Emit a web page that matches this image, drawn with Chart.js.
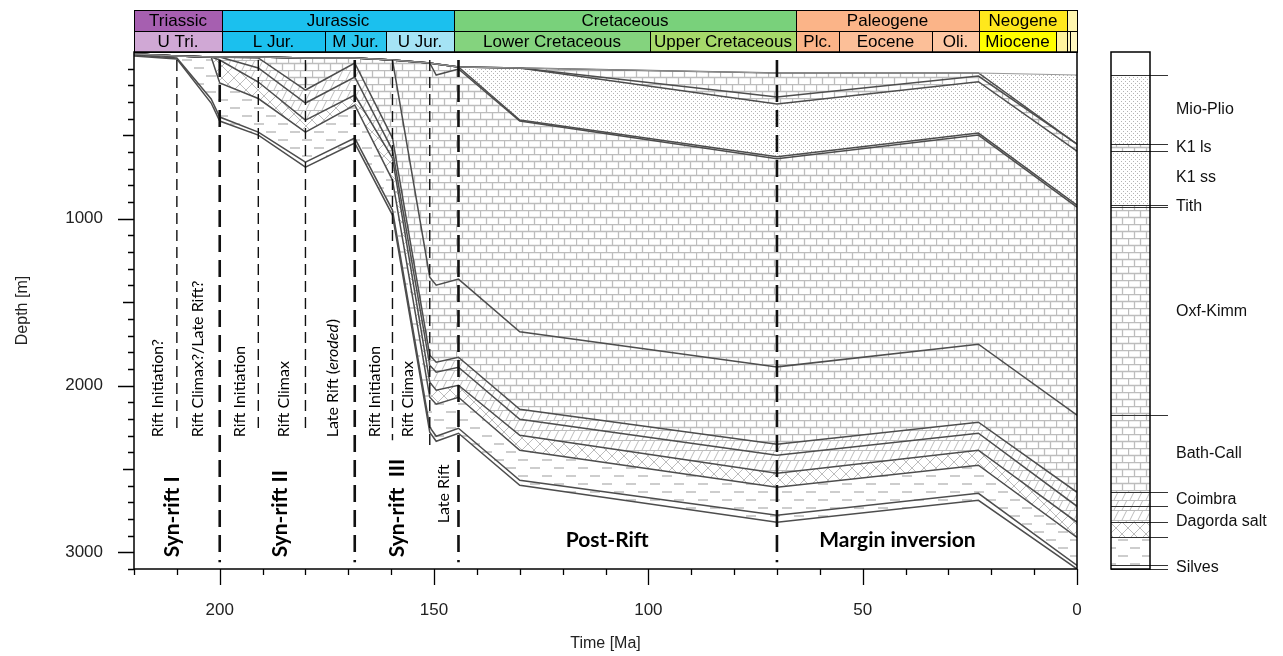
<!DOCTYPE html>
<html>
<head>
<meta charset="utf-8">
<title>Burial history</title>
<script src="https://cdn.jsdelivr.net/npm/chart.js@4.4.1/dist/chart.umd.min.js"></script>
<style>
  html, body { margin: 0; padding: 0; background: #fff; }
  #wrap { width: 1283px; height: 656px; }
</style>
</head>
<body>
<div id="wrap"><canvas id="burial" width="1283" height="656"></canvas></div>
<script>
// ages of the nodes (Ma) shared by every horizon
const ages = [220, 210, 202, 200, 191, 180, 168.5, 159.7, 151, 149.5, 144.3, 130, 70, 23, 0];

// horizon depths (m) at each age, top to bottom
const surface      = [12, 24, 30, 30, 30, 36, 36, 48, 66, 72, 90, 96, 126, 126, 138];
const mioPlioBase  = [12, 24, 30, 30, 30, 36, 36, 48, 66, 72, 90, 96, 126, 126, 552];
const k1lsTop      = [12, 24, 30, 30, 30, 36, 36, 48, 66, 72, 90, 96, 270, 144, 552];
const k1lsBase     = [12, 24, 30, 30, 30, 36, 36, 48, 66, 72, 90, 96, 312, 178, 594];
const tithTop      = [12, 24, 30, 30, 30, 36, 36, 48, 66, 72, 90, 408, 628, 486, 918];
const tithBase     = [12, 24, 30, 30, 30, 36, 36, 48, 66, 138, 102, 414, 640, 498, 930];
const oxfKimmBase  = [12, 24, 30, 30, 30, 36, 36, 48, 1350, 1398, 1362, 1678, 1888, 1752, 2178];
const bathCallBase = [12, 24, 30, 30, 36, 228, 66, 516, 1818, 1860, 1830, 2142, 2352, 2220, 2640];
const coimbraMid   = [12, 24, 30, 30, 96, 306, 150, 588, 1878, 1920, 1890, 2202, 2418, 2286, 2724];
const coimbraBase  = [12, 24, 30, 48, 180, 408, 258, 636, 1980, 2028, 1998, 2298, 2526, 2388, 2820];
const dagordaBase  = [12, 24, 30, 186, 279, 480, 318, 768, 2070, 2112, 2070, 2388, 2610, 2478, 2910];
const silvesBase   = [18, 36, 282, 390, 480, 660, 516, 948, 2250, 2304, 2256, 2568, 2778, 2646, 3078];
const basement     = [24, 42, 306, 414, 498, 690, 546, 978, 2280, 2334, 2286, 2598, 2820, 2688, 3100];

const horizonNames = ['Surface', 'Base Mio-Plio', 'Top K1 ls', 'Base K1 ls', 'Top Tith', 'Base Tith',
  'Base Oxf-Kimm', 'Base Bath-Call', 'Coimbra', 'Base Coimbra', 'Base Dagorda', 'Base Silves', 'Basement'];
const horizonDepths = [surface, mioPlioBase, k1lsTop, k1lsBase, tithTop, tithBase,
  oxfKimmBase, bathCallBase, coimbraMid, coimbraBase, dagordaBase, silvesBase, basement];

// axis ticks
const timeTicks = [200, 150, 100, 50, 0];
const depthTicks = [1000, 2000, 3000];

// rift events (vertical dashed lines)
const eventAges = [210, 200, 191, 180, 168.5, 159.7, 151, 144.3, 70];
const eventTop = [48, 48, 48, 48, 48, 48, 48, 48, 48];
const eventBottom = [2268, 3060, 2280, 2256, 3060, 2328, 2358, 3060, 3060];
const eventKind = ['phase', 'stage', 'phase', 'phase', 'stage', 'phase', 'phase', 'stage', 'stage'];

// geological time scale
const periodNames = ['Triassic', 'Jurassic', 'Cretaceous', 'Paleogene', 'Neogene', ''];
const periodStart = [220, 199.5, 145.4, 65.5, 22.9, 2.3];
const periodEnd = [199.5, 145.4, 65.5, 22.9, 2.3, 0];
const epochNames = ['U Tri.', 'L Jur.', 'M Jur.', 'U Jur.', 'Lower Cretaceous', 'Upper Cretaceous',
  'Plc.', 'Eocene', 'Oli.', 'Miocene', '', '', ''];
const epochStart = [220, 199.5, 175.5, 161.2, 145.4, 99.7, 65.5, 55.6, 33.8, 22.9, 5.0, 2.3, 1.6];
const epochEnd = [199.5, 175.5, 161.2, 145.4, 99.7, 65.5, 55.6, 33.8, 22.9, 5.0, 2.3, 1.6, 0];

// annotations
const phaseText = ['Rift Initiation?', 'Rift Climax?/Late Rift?', 'Rift Initiation', 'Rift Climax',
  'Late Rift (eroded)', 'Rift Initiation', 'Rift Climax', 'Late Rift'];
const phaseAge = [214.4, 205, 195.4, 185, 173.5, 163.7, 156.2, 147.8];
const phaseDepth = [2310, 2310, 2310, 2310, 2310, 2310, 2310, 2826];
const stageText = ['Syn-rift I', 'Syn-rift II', 'Syn-rift  III'];
const stageAge = [211, 185.9, 158.6];
const stageDepth = [3030, 3030, 3030];
const phaseNames = ['Post-Rift', 'Margin inversion'];
const phaseNameAge = [109.6, 41.9];
const phaseNameDepth = [2928, 2928];

// present-day column units: label, top horizon, base horizon
const unitNames = ['Mio-Plio', 'K1 ls', 'K1 ss', 'Tith', 'Oxf-Kimm', 'Bath-Call', 'Coimbra', 'Dagorda salt', 'Silves'];
const unitTop = [0, 2, 3, 4, 5, 6, 7, 8, 11];
const unitBase = [2, 3, 4, 5, 6, 7, 8, 10, 12];

// ---- styles ----
const canvas = document.getElementById('burial');
const ctx = canvas.getContext('2d');
const SANS = '"Liberation Sans", Arial, sans-serif';
const NOTE = 'Lato, "Open Sans", sans-serif';

function tile(w, h, draw) {
  const c = document.createElement('canvas');
  c.width = w;
  c.height = h;
  const g = c.getContext('2d');
  g.fillStyle = '#fff';
  g.fillRect(0, 0, w, h);
  g.strokeStyle = '#bdbdbd';
  g.fillStyle = '#b4b4b4';
  g.lineWidth = 1;
  draw(g);
  return ctx.createPattern(c, 'repeat');
}

const patterns = {
  bricks: tile(24, 14, g => {
    g.lineWidth = 1.3;
    g.beginPath();
    g.moveTo(0, 0.5); g.lineTo(24, 0.5);
    g.moveTo(0, 7.5); g.lineTo(24, 7.5);
    g.moveTo(0.5, 0); g.lineTo(0.5, 7);
    g.moveTo(12.5, 0); g.lineTo(12.5, 7);
    g.moveTo(6.5, 7); g.lineTo(6.5, 14);
    g.moveTo(18.5, 7); g.lineTo(18.5, 14);
    g.stroke();
  }),
  dots: tile(4, 4, g => { g.fillRect(1, 1, 1, 1); g.fillRect(3, 3, 1, 1); }),
  shale: tile(24, 16, g => {
    g.lineWidth = 1.5;
    g.beginPath();
    g.moveTo(2, 4); g.lineTo(12, 4);
    g.moveTo(14, 12); g.lineTo(24, 12);
    g.stroke();
  }),
  salt: tile(12, 12, g => {
    g.beginPath();
    g.moveTo(0, 0); g.lineTo(12, 12);
    g.moveTo(12, 0); g.lineTo(0, 12);
    g.stroke();
  }),
  hatch: tile(16, 10, g => {
    g.beginPath();
    g.moveTo(0, 0.5); g.lineTo(16, 0.5);
    g.moveTo(2, 10); g.lineTo(7, 0);
    g.moveTo(10, 10); g.lineTo(15, 0);
    g.stroke();
  })
};

// fill of the layer above each horizon
const layerFill = [null, 'dots', 'bricks', 'bricks', 'dots', 'bricks', 'bricks', 'bricks', 'hatch', 'hatch', 'salt', 'shale', 'shale'];

const periodColors = ['#a65fb0', '#1bc0ee', '#79d17b', '#fbb488', '#ffe81c', '#fff6b0'];
const epochColors = ['#d0a8d5', '#1bc0ee', '#2ac6ef', '#a5e3f5', '#84d37e', '#a6d96a',
  '#fbb488', '#fcbf98', '#fdc7a3', '#ffff00', '#fff39d', '#fff7c0', '#fff7c0'];

const datasets = horizonDepths.map((depth, k) => ({
  label: horizonNames[k],
  data: ages.map((t, i) => ({ x: t, y: depth[i] })),
  borderColor: k === 0 ? '#9a9a9a' : '#4d4d4d',
  borderWidth: k === 0 ? 1.2 : 1.5,
  pointRadius: 0,
  tension: 0,
  fill: k === 0 ? false : '-1',
  backgroundColor: k === 0 ? 'rgba(0,0,0,0)' : patterns[layerFill[k]],
  order: 2
}));

eventAges.forEach((t, i) => {
  const major = eventKind[i] === 'stage';
  datasets.push({
    label: 'event ' + t,
    data: [{ x: t, y: eventTop[i] }, { x: t, y: eventBottom[i] }],
    borderColor: '#111',
    borderWidth: major ? 2.6 : 1.4,
    borderDash: major ? [17, 8] : [11, 6],
    pointRadius: 0,
    fill: false,
    order: 1
  });
});

function vtext(str, px, py, font) {
  ctx.save();
  ctx.translate(px, py);
  ctx.rotate(-Math.PI / 2);
  ctx.font = font;
  ctx.textAlign = 'left';
  ctx.textBaseline = 'middle';
  ctx.fillStyle = '#000';
  ctx.fillText(str, 0, 0);
  ctx.restore();
}

const overlay = {
  id: 'overlay',
  afterDatasetsDraw(chart) {
    const { x, y } = chart.scales;
    phaseText.forEach((str, i) => {
      const px = x.getPixelForValue(phaseAge[i]);
      const py = y.getPixelForValue(phaseDepth[i]);
      const font = '16px ' + NOTE;
      if (str.indexOf('(eroded)') >= 0) {
        // "eroded" is set in italics
        ctx.save();
        ctx.translate(px, py);
        ctx.rotate(-Math.PI / 2);
        ctx.textBaseline = 'middle';
        ctx.fillStyle = '#000';
        ctx.font = font;
        const a = 'Late Rift (';
        ctx.fillText(a, 0, 0);
        let off = ctx.measureText(a).width;
        ctx.font = 'italic ' + font;
        ctx.fillText('eroded', off, 0);
        off += ctx.measureText('eroded').width;
        ctx.font = font;
        ctx.fillText(')', off + 1, 0);
        ctx.restore();
      } else {
        vtext(str, px, py, font);
      }
    });
    stageText.forEach((str, i) => {
      vtext(str, x.getPixelForValue(stageAge[i]), y.getPixelForValue(stageDepth[i]), 'bold 21px ' + NOTE);
    });
    ctx.save();
    ctx.font = 'bold 21px ' + NOTE;
    ctx.textAlign = 'center';
    ctx.textBaseline = 'middle';
    ctx.fillStyle = '#000';
    phaseNames.forEach((str, i) => {
      ctx.fillText(str, x.getPixelForValue(phaseNameAge[i]), y.getPixelForValue(phaseNameDepth[i]));
    });
    ctx.restore();
  },
  afterDraw(chart) {
    const { chartArea: a, scales: { x, y } } = chart;
    ctx.save();

    // time scale bars
    function bar(names, start, end, colors, y0, h) {
      names.forEach((name, i) => {
        const x0 = Math.round(x.getPixelForValue(start[i]));
        const x1 = Math.round(x.getPixelForValue(end[i]));
        ctx.fillStyle = colors[i];
        ctx.fillRect(x0, y0, x1 - x0, h);
        ctx.strokeStyle = '#000';
        ctx.lineWidth = 1;
        ctx.strokeRect(x0 + 0.5, y0 + 0.5, x1 - x0, h);
        if (name) {
          ctx.fillStyle = '#000';
          ctx.font = '17px ' + SANS;
          ctx.textAlign = 'center';
          ctx.textBaseline = 'middle';
          ctx.fillText(name, (x0 + x1) / 2, y0 + h / 2 + 1);
        }
      });
    }
    bar(periodNames, periodStart, periodEnd, periodColors, 10, 21);
    bar(epochNames, epochStart, epochEnd, epochColors, 31, 21);

    // frame
    ctx.strokeStyle = '#000';
    ctx.lineWidth = 1.5;
    ctx.strokeRect(a.left, a.top, a.right - a.left, a.bottom - a.top);

    // ticks: minor every 10 Ma / 100 m
    ctx.lineWidth = 1.3;
    ctx.beginPath();
    for (let t = 0; t <= 220; t += 10) {
      const px = Math.round(x.getPixelForValue(t)) + 0.5;
      const len = t % 50 === 0 ? 16 : 6;
      ctx.moveTo(px, a.bottom);
      ctx.lineTo(px, a.bottom + len);
    }
    for (let d = 100; d <= 3100; d += 100) {
      const py = Math.round(y.getPixelForValue(d)) + 0.5;
      const len = d % 1000 === 0 ? 16 : (d % 500 === 0 ? 11 : 6);
      ctx.moveTo(a.left - len, py);
      ctx.lineTo(a.left, py);
    }
    ctx.stroke();

    // present-day column
    const cl = 1111, cr = 1150;
    const last = ages.length - 1;
    for (let k = 1; k < horizonDepths.length; k++) {
      const top = y.getPixelForValue(horizonDepths[k - 1][last]);
      const bot = y.getPixelForValue(horizonDepths[k][last]);
      if (bot - top > 0.1) {
        ctx.fillStyle = patterns[layerFill[k]];
        ctx.fillRect(cl, top, cr - cl, bot - top);
      }
    }
    ctx.strokeStyle = '#333';
    ctx.lineWidth = 1.2;
    ctx.beginPath();
    horizonDepths.forEach(depth => {
      const py = Math.round(y.getPixelForValue(depth[last])) + 0.5;
      ctx.moveTo(cl, py);
      ctx.lineTo(1168, py);
    });
    ctx.stroke();
    ctx.strokeStyle = '#000';
    ctx.lineWidth = 1.5;
    ctx.strokeRect(cl, a.top, cr - cl, a.bottom - a.top);

    ctx.fillStyle = '#111';
    ctx.font = '16px ' + SANS;
    ctx.textAlign = 'left';
    ctx.textBaseline = 'middle';
    unitNames.forEach((name, i) => {
      const d0 = horizonDepths[unitTop[i]][last];
      const d1 = horizonDepths[unitBase[i]][last];
      ctx.fillText(name, 1176, y.getPixelForValue((d0 + d1) / 2));
    });
    ctx.restore();
  }
};

new Chart(canvas, {
  type: 'line',
  data: { datasets: datasets },
  options: {
    responsive: false,
    animation: false,
    devicePixelRatio: 1,
    layout: { padding: { top: 52, right: 206, bottom: 0, left: 0 } },
    scales: {
      x: {
        type: 'linear',
        min: 0,
        max: 220,
        reverse: true,
        grid: { display: false, drawTicks: false },
        border: { display: false },
        afterBuildTicks: s => { s.ticks = timeTicks.map(v => ({ value: v })); },
        ticks: {
          padding: 31,
          maxRotation: 0,
          autoSkip: false,
          color: '#222',
          font: { family: SANS, size: 17 }
        },
        title: {
          display: true,
          text: 'Time [Ma]',
          color: '#222',
          font: { family: SANS, size: 16 },
          padding: { top: 0, bottom: 3 }
        },
        afterFit: s => { s.height = 87; }
      },
      y: {
        type: 'linear',
        min: 0,
        max: 3100,
        reverse: true,
        grid: { display: false, drawTicks: false },
        border: { display: false },
        afterBuildTicks: s => { s.ticks = depthTicks.map(v => ({ value: v })); },
        ticks: {
          padding: 31,
          autoSkip: false,
          color: '#222',
          font: { family: SANS, size: 17 },
          callback: v => String(v)
        },
        title: {
          display: true,
          text: 'Depth [m]',
          color: '#222',
          font: { family: SANS, size: 16 },
          padding: { top: 13, bottom: 0 }
        },
        afterFit: s => { s.width = 134; }
      }
    },
    plugins: {
      legend: { display: false },
      tooltip: { enabled: false },
      filler: { drawTime: 'beforeDatasetsDraw' }
    }
  },
  plugins: [overlay]
});
</script>
</body>
</html>
